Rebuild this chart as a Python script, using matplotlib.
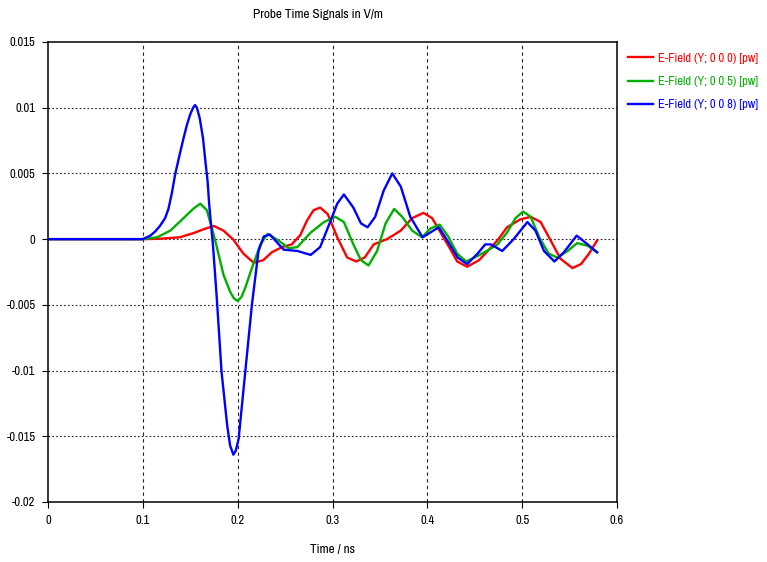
#!/usr/bin/env python3

import numpy as np
import matplotlib
matplotlib.use("Agg")
import matplotlib.pyplot as plt
from matplotlib import font_manager

# probe signals (time in ns, field in V/m)
t_red = [0.0, 0.1, 0.118, 0.139, 0.153, 0.166, 0.175, 0.185, 0.1955, 0.206, 0.217,
         0.227, 0.236, 0.247, 0.257, 0.266, 0.273, 0.280, 0.287, 0.295, 0.305,
         0.3155, 0.325, 0.334, 0.3435, 0.358, 0.372, 0.384, 0.396, 0.405, 0.414,
         0.423, 0.4315, 0.442, 0.4545, 0.465, 0.475, 0.484, 0.498, 0.509, 0.5195,
         0.530, 0.5405, 0.553, 0.562, 0.5705, 0.579]
v_red = [0.0, 0.0, 0.00003, 0.00014, 0.00045, 0.0008, 0.001, 0.00065, -0.00004, -0.0011, -0.0018,
         -0.0016, -0.001, -0.0006, -0.0004, 0.0003, 0.0014, 0.0022, 0.0024, 0.0019, 0.00014,
         -0.0014, -0.0017, -0.0014, -0.0004, 0.00002, 0.00065, 0.0016, 0.002, 0.0016, 0.0005,
         -0.0006, -0.0017, -0.0021, -0.0016, -0.0008, 0.0, 0.0009, 0.0015, 0.0017, 0.0013,
         -0.0001, -0.0015, -0.0022, -0.0019, -0.0011, -0.0001]

t_green = [0.0, 0.1, 0.115, 0.129, 0.143, 0.153, 0.1605, 0.1675, 0.173, 0.178, 0.185,
           0.192, 0.196, 0.200, 0.204, 0.208, 0.215, 0.224, 0.2315, 0.243, 0.254, 0.263, 0.277,
           0.291, 0.303, 0.312, 0.322, 0.330, 0.338, 0.347, 0.356, 0.365, 0.3735,
           0.384, 0.3945, 0.403, 0.413, 0.422, 0.4315, 0.441, 0.4525, 0.465, 0.474,
           0.484, 0.493, 0.501, 0.509, 0.518, 0.528, 0.537, 0.548, 0.558, 0.569, 0.579]
v_green = [0.0, 0.0, 0.00014, 0.00065, 0.0016, 0.0023, 0.0027, 0.0022, 0.0008, -0.0006, -0.0027,
           -0.004, -0.0045, -0.0047, -0.0044, -0.0037, -0.0022, -0.0004, 0.0004, -0.0001, -0.0007, -0.0006, 0.0005,
           0.0013, 0.0017, 0.0013, -0.0004, -0.0016, -0.002, -0.0009, 0.0012, 0.0023, 0.0017,
           0.00065, 0.00014, 0.0008, 0.0011, 0.0002, -0.0011, -0.0017, -0.0013, -0.0008, -0.0004,
           0.0005, 0.0016, 0.0021, 0.0017, 0.00014, -0.0011, -0.0014, -0.0009, -0.0003, -0.0005, -0.001]

t_blue = [0.0, 0.1, 0.108, 0.113, 0.118, 0.1235, 0.127, 0.1306, 0.134, 0.1387, 0.143, 0.1465,
          0.150, 0.153, 0.155, 0.157, 0.160, 0.1634, 0.166, 0.1683,
          0.170, 0.174, 0.178, 0.183, 0.189, 0.192, 0.1955, 0.198, 0.201, 0.208, 0.215, 0.222,
          0.2275, 0.234, 0.2415, 0.2485, 0.263, 0.277, 0.287, 0.298, 0.305, 0.312,
          0.322, 0.330, 0.337, 0.345, 0.354, 0.363, 0.372, 0.382, 0.395, 0.403,
          0.412, 0.421, 0.432, 0.442, 0.453, 0.461, 0.467, 0.479, 0.491, 0.5055,
          0.514, 0.523, 0.534, 0.544, 0.5575, 0.569, 0.579]
v_blue = [0.0, 0.0, 0.00027, 0.00058, 0.001, 0.0016, 0.0023, 0.0035, 0.0049, 0.0064, 0.0077, 0.0087,
          0.0095, 0.0100, 0.0102, 0.0100, 0.0092, 0.0077, 0.0059, 0.0044,
          0.0026, -0.0005, -0.0045, -0.0101, -0.0142, -0.0157, -0.0164, -0.0161, -0.0152, -0.0101, -0.005, -0.0009,
          0.0002, 0.00035, -0.00025, -0.0008, -0.0009, -0.0012, -0.0006, 0.0014, 0.0027, 0.0034,
          0.0024, 0.0012, 0.0009, 0.0017, 0.0037, 0.005, 0.004, 0.0017, 0.00014, 0.0005,
          0.0009, -0.0001, -0.0014, -0.0019, -0.0011, -0.0004, -0.0004, -0.0009, 0.0, 0.0013,
          0.00065, -0.0009, -0.0017, -0.001, 0.00027, -0.0004, -0.001]

labels = ["E-Field (Y; 0 0 0) [pw]", "E-Field (Y; 0 0 5) [pw]", "E-Field (Y; 0 0 8) [pw]"]
colors = ["#ff0000", "#00b000", "#0000ff"]

x_ticks = [0, 0.1, 0.2, 0.3, 0.4, 0.5, 0.6]
x_labels = ["0", "0.1", "0.2", "0.3", "0.4", "0.5", "0.6"]
y_ticks = [0.015, 0.01, 0.005, 0, -0.005, -0.01, -0.015, -0.02]
y_labels = ["0.015", "0.01", "0.005", "0", "-0.005", "-0.01", "-0.015", "-0.02"]

# the reference uses a narrow UI font; take a condensed face if one is installed
narrow = None
for f in font_manager.fontManager.ttflist:
    if ("Narrow" in f.name or "Condensed" in f.name) and f.weight in (400, "normal", "regular"):
        narrow = f.name
        break
if narrow is None:
    for f in font_manager.fontManager.ttflist:
        if f.stretch in ("condensed", "semi-condensed") and f.style == "normal":
            narrow = f.name
            break

if narrow is not None:
    plt.rcParams['font.family'] = [narrow, 'DejaVu Sans']
    fs, leg_fs = 9, 9
else:
    plt.rcParams['font.family'] = ['Liberation Sans', 'DejaVu Sans']
    fs, leg_fs = 8, 7.3
plt.rcParams['font.stretch'] = 'condensed'
plt.rcParams['font.size'] = fs

W, H = 767, 562
fig = plt.figure(figsize=(W / 100, H / 100), dpi=100)
ax = fig.add_axes([48 / W, 1 - 502 / H, (617 - 48) / W, (502 - 42) / H])

lines = []
for t, v, lab, c in zip([t_red, t_green, t_blue], [v_red, v_green, v_blue], labels, colors):
    ln, = ax.plot(t, v, color=c, lw=1.7, label=lab, solid_joinstyle="round")
    lines.append(ln)

ax.set_xlim(0, 0.6)
ax.set_ylim(-0.02, 0.015)
ax.set_xticks(x_ticks)
ax.set_xticklabels(x_labels)
ax.set_yticks(y_ticks)
ax.set_yticklabels(y_labels)
ax.tick_params(direction="out", length=4, width=0.8, colors="black", pad=5)

# vertical grid dashed, horizontal grid dotted
for x in x_ticks[1:-1]:
    ax.axvline(x, color="#222222", lw=0.8, ls=(0, (3, 3)), zorder=0)
for y in y_ticks[1:-1]:
    ax.axhline(y, color="#222222", lw=0.8, ls=(0, (1.5, 2)), zorder=0)

for s in ax.spines.values():
    s.set_linewidth(1.1)

fig.text(318 / W, 1 - 14 / H, "Probe Time Signals in V/m", ha="center", va="center", fontsize=fs + 0.5)
fig.text(333 / W, 1 - 549 / H, "Time / ns", ha="center", va="center", fontsize=fs + 0.5)

leg = fig.legend(handles=lines, loc="upper left", bbox_to_anchor=(620 / W, 1 - 45 / H),
                 frameon=False, handlelength=2.0, handletextpad=0.4, labelspacing=1.0,
                 borderpad=0.3, borderaxespad=0.3, fontsize=leg_fs)
for txt, c in zip(leg.get_texts(), colors):
    txt.set_color(c)

fig.savefig("out.png", dpi=100)
